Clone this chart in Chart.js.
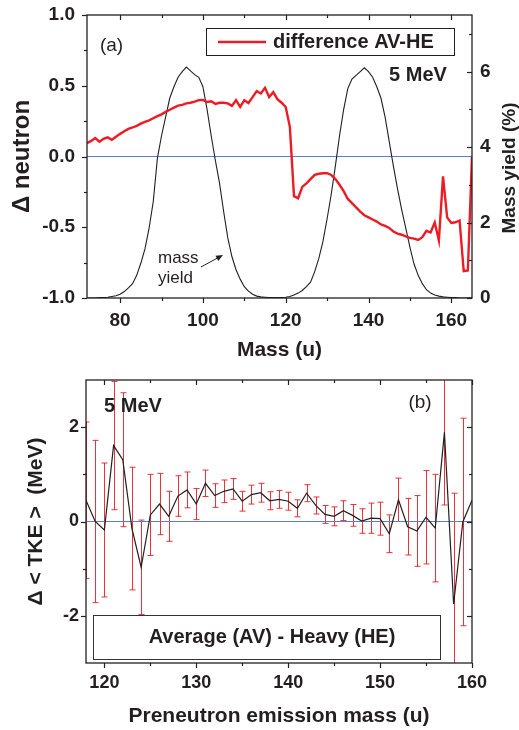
<!DOCTYPE html>
<html><head><meta charset="utf-8">
<script src="https://cdn.jsdelivr.net/npm/chart.js@4.4.1/dist/chart.umd.min.js"></script>
<style>
html,body{margin:0;padding:0;background:#fff;}
#wrap{position:relative;width:519px;height:730px;overflow:hidden;background:#fff;}
.box{position:absolute;left:0;width:519px;}
</style></head><body>
<div id="wrap">
<div class="box" style="top:0;height:372px"><canvas id="c1"></canvas></div>
<div class="box" style="top:369px;height:361px"><canvas id="c2"></canvas></div>
</div>
<script>
// ---------- Panel (a) data ----------
const massA = [72,73,74,75,76,77,78,79,80,81,82,83,84,85,86,87,88,89,90,91,92,93,94,95,96,97,98,99,100,101,102,103,104,105,106,107,108,109,110,111,112,113,114,115,116,117,118,119,120,121,122,123,124,125,126,127,128,129,130,131,132,133,134,135,136,137,138,139,140,141,142,143,144,145,146,147,148,149,150,151,152,153,154,155,156,157,158,159,160,161,162,163,164,165];
const diffAVHE = [0.095,0.11,0.13,0.105,0.125,0.135,0.118,0.14,0.16,0.178,0.195,0.205,0.217,0.232,0.245,0.255,0.27,0.285,0.298,0.315,0.33,0.345,0.36,0.365,0.375,0.38,0.388,0.398,0.4,0.385,0.39,0.372,0.38,0.38,0.375,0.358,0.398,0.35,0.398,0.378,0.42,0.462,0.445,0.485,0.42,0.455,0.405,0.38,0.35,0.21,-0.28,-0.295,-0.215,-0.19,-0.16,-0.13,-0.122,-0.118,-0.118,-0.13,-0.16,-0.2,-0.245,-0.3,-0.33,-0.36,-0.39,-0.415,-0.43,-0.445,-0.46,-0.48,-0.49,-0.505,-0.53,-0.545,-0.553,-0.565,-0.575,-0.58,-0.59,-0.57,-0.525,-0.537,-0.466,-0.594,-0.14,-0.43,-0.47,-0.465,-0.452,-0.81,-0.806,0.0];
const massYield = [0,0,0,0.01,0.01,0.02,0.04,0.06,0.1,0.17,0.27,0.38,0.6,0.92,1.3,1.85,2.55,3.7,4.3,4.8,5.3,5.6,5.85,6.0,6.12,6.02,5.92,5.85,5.6,5.0,4.3,3.65,3.05,2.3,1.6,1.1,0.75,0.5,0.3,0.18,0.1,0.05,0.03,0.02,0.01,0.01,0.01,0.01,0.02,0.04,0.08,0.13,0.2,0.3,0.42,0.7,1.05,1.5,2.1,2.75,3.5,4.3,5.0,5.55,5.8,5.9,6.0,6.1,6.0,5.85,5.6,5.3,4.8,4.15,3.5,2.9,2.35,1.85,1.35,0.9,0.6,0.38,0.22,0.13,0.08,0.05,0.03,0.02,0.01,0.01,0,0,0,0];
const xTicksA = [80,100,120,140,160];
const xMinorA = [90,110,130,150];
const yTicksA = [-1,-0.5,0,0.5,1];
const yMinorA = [-0.75,-0.25,0.25,0.75];
const y1TicksA = [0,2,4,6];
const y1MinorA = [1,3,5,7];
const zeroXA = [72,165];

// ---------- Panel (b) data ----------
const massB = [118,119,120,121,122,123,124,125,126,127,128,129,130,131,132,133,134,135,136,137,138,139,140,141,142,143,144,145,146,147,148,149,150,151,152,153,154,155,156,157,158,159,160];
const dTKE = [0.45,0.0,-0.18,1.61,1.31,-0.15,-0.97,0.14,0.37,0.11,0.54,0.67,0.37,0.81,0.55,0.64,0.69,0.43,0.57,0.61,0.44,0.47,0.43,0.28,0.6,0.34,0.15,0.11,0.23,0.13,0.01,0.07,0.06,-0.26,0.46,-0.11,-0.2,0.09,-0.14,1.89,-1.75,-0.01,0.45];
const dTKEerr = [1.66,1.72,1.42,1.36,1.42,1.3,1.0,0.86,0.65,0.53,0.43,0.38,0.33,0.28,0.25,0.24,0.22,0.21,0.2,0.2,0.19,0.19,0.19,0.18,0.18,0.18,0.19,0.2,0.21,0.23,0.26,0.32,0.35,0.4,0.46,0.6,0.75,0.99,1.14,1.54,2.35,2.2,4.0];
const xTicksB = [120,130,140,150,160];
const xMinorB = [125,135,145,155];
const yTicksB = [-2,0,2];
const yMinorB = [-1,1];
const zeroXB = [118,160];

// ---------- styling ----------
const FONT = "'Liberation Sans', Arial, Helvetica, sans-serif";
Chart.defaults.font.family = FONT;
Chart.defaults.color = '#231f20';
const INK = '#231f20';
const RED = '#ec1c24';
const BLUE = '#5a7ed8';

const pts = (xs, ys) => xs.map((x, i) => ({x: x, y: ys[i]}));
const noPad = s => { s.paddingTop = 0; s.paddingBottom = 0; s.paddingLeft = 0; s.paddingRight = 0; };

function frame(ctx, a) {
  ctx.save();
  ctx.strokeStyle = INK; ctx.lineWidth = 1.3;
  ctx.strokeRect(a.left, a.top, a.right - a.left, a.bottom - a.top);
  ctx.restore();
}
// len > 0 : outward, len < 0 : inward
function tickMarks(chart, specs) {
  const ctx = chart.ctx, a = chart.chartArea;
  ctx.save();
  ctx.strokeStyle = INK; ctx.lineWidth = 1.2;
  specs.forEach(s => {
    const sc = chart.scales[s.scale];
    s.vals.forEach(v => {
      const p = Math.round(sc.getPixelForValue(v)) + 0.5;
      ctx.beginPath();
      if (s.side === 'bottom') { ctx.moveTo(p, a.bottom); ctx.lineTo(p, a.bottom + s.len); }
      if (s.side === 'top') { ctx.moveTo(p, a.top); ctx.lineTo(p, a.top - s.len); }
      if (s.side === 'left') { ctx.moveTo(a.left, p); ctx.lineTo(a.left - s.len, p); }
      if (s.side === 'right') { ctx.moveTo(a.right, p); ctx.lineTo(a.right + s.len, p); }
      ctx.stroke();
    });
  });
  ctx.restore();
}
function text(ctx, str, x, y, font, align, base, rot) {
  ctx.save();
  ctx.font = font; ctx.fillStyle = INK;
  ctx.textAlign = align || 'center'; ctx.textBaseline = base || 'middle';
  ctx.translate(x, y);
  if (rot) ctx.rotate(rot);
  ctx.fillText(str, 0, 0);
  ctx.restore();
}

const panelA = {
  id: 'panelA',
  afterDraw(chart) {
    const ctx = chart.ctx, a = chart.chartArea;
    frame(ctx, a);
    tickMarks(chart, [
      {scale: 'x', side: 'bottom', vals: xTicksA, len: 5},
      {scale: 'x', side: 'bottom', vals: xMinorA, len: 3},
      {scale: 'x', side: 'top', vals: xTicksA, len: -5},
      {scale: 'x', side: 'top', vals: xMinorA, len: -3},
      {scale: 'y', side: 'left', vals: yTicksA, len: 5},
      {scale: 'y', side: 'left', vals: yMinorA, len: 3},
      {scale: 'y1', side: 'right', vals: y1TicksA, len: -5},
      {scale: 'y1', side: 'right', vals: y1MinorA, len: -3}
    ]);
    // legend box
    ctx.save();
    ctx.fillStyle = '#fff'; ctx.fillRect(206, 28, 248, 27);
    ctx.strokeStyle = INK; ctx.lineWidth = 1; ctx.strokeRect(206.5, 28.5, 248, 27);
    ctx.strokeStyle = RED; ctx.lineWidth = 2.4;
    ctx.beginPath(); ctx.moveTo(218, 42); ctx.lineTo(266, 42); ctx.stroke();
    ctx.restore();
    text(ctx, 'difference AV-HE', 273, 42, 'bold 20px ' + FONT, 'left');
    text(ctx, '(a)', 111.5, 46, '19px ' + FONT);
    text(ctx, '5 MeV', 418, 75, 'bold 20px ' + FONT);
    text(ctx, 'mass', 158, 263, '17px ' + FONT, 'left', 'alphabetic');
    text(ctx, 'yield', 158, 283, '17px ' + FONT, 'left', 'alphabetic');
    // arrow
    ctx.save();
    ctx.strokeStyle = INK; ctx.fillStyle = INK; ctx.lineWidth = 1;
    const x0 = 201, y0 = 267, x1 = 223, y1 = 255;
    const ang = Math.atan2(y1 - y0, x1 - x0);
    ctx.beginPath(); ctx.moveTo(x0, y0); ctx.lineTo(x1 - 5 * Math.cos(ang), y1 - 5 * Math.sin(ang)); ctx.stroke();
    ctx.beginPath();
    ctx.moveTo(x1, y1);
    ctx.lineTo(x1 - 7 * Math.cos(ang) + 3 * Math.sin(ang), y1 - 7 * Math.sin(ang) - 3 * Math.cos(ang));
    ctx.lineTo(x1 - 7 * Math.cos(ang) - 3 * Math.sin(ang), y1 - 7 * Math.sin(ang) + 3 * Math.cos(ang));
    ctx.closePath(); ctx.fill();
    ctx.restore();
    // right axis title (reads bottom to top)
    text(ctx, 'Mass yield (%)', 510, 168, 'bold 19px ' + FONT, 'center', 'middle', -Math.PI / 2);
  }
};

const panelB = {
  id: 'panelB',
  beforeDatasetsDraw(chart) {
    const ctx = chart.ctx, a = chart.chartArea;
    const xs = chart.scales.x, ys = chart.scales.y;
    ctx.save();
    ctx.beginPath(); ctx.rect(a.left, a.top, a.right - a.left, a.bottom - a.top); ctx.clip();
    ctx.strokeStyle = 'rgba(236,28,36,0.9)'; ctx.lineWidth = 1;
    massB.forEach((m, i) => {
      const x = Math.round(xs.getPixelForValue(m)) + 0.5;
      const yt = ys.getPixelForValue(dTKE[i] + dTKEerr[i]);
      const yb = ys.getPixelForValue(dTKE[i] - dTKEerr[i]);
      ctx.beginPath(); ctx.moveTo(x, yt); ctx.lineTo(x, yb); ctx.stroke();
      ctx.beginPath();
      ctx.moveTo(x - 3, yt); ctx.lineTo(x + 3, yt);
      ctx.moveTo(x - 3, yb); ctx.lineTo(x + 3, yb);
      ctx.stroke();
    });
    ctx.restore();
  },
  afterDatasetsDraw(chart) {
    const ctx = chart.ctx;
    ctx.save();
    ctx.fillStyle = '#fff'; ctx.fillRect(93, 246, 347, 44);
    ctx.strokeStyle = '#333'; ctx.lineWidth = 1; ctx.strokeRect(93.5, 246.5, 347, 44);
    ctx.restore();
    text(ctx, 'Average (AV) - Heavy (HE)', 272, 268, 'bold 20px ' + FONT);
  },
  afterDraw(chart) {
    const ctx = chart.ctx, a = chart.chartArea;
    frame(ctx, a);
    tickMarks(chart, [
      {scale: 'x', side: 'bottom', vals: xTicksB, len: 5},
      {scale: 'x', side: 'bottom', vals: xMinorB, len: 3},
      {scale: 'x', side: 'top', vals: xTicksB, len: -5},
      {scale: 'x', side: 'top', vals: xMinorB, len: -3},
      {scale: 'y', side: 'left', vals: yTicksB, len: 5},
      {scale: 'y', side: 'left', vals: yMinorB, len: 3},
      {scale: 'y', side: 'right', vals: yTicksB, len: -5},
      {scale: 'y', side: 'right', vals: yMinorB, len: -3}
    ]);
    text(ctx, '(b)', 420, 34, '19px ' + FONT);
    text(ctx, '5 MeV', 133, 37.5, 'bold 20px ' + FONT);
  }
};

const common = {
  responsive: true, maintainAspectRatio: false, animation: false, events: [],
  plugins: {legend: {display: false}, tooltip: {enabled: false}}
};

new Chart(document.getElementById('c1'), {
  type: 'scatter',
  data: {datasets: [
    {label: 'difference AV-HE', data: pts(massA, diffAVHE), yAxisID: 'y', showLine: true,
     borderColor: RED, borderWidth: 2.4, pointRadius: 0, tension: 0},
    {label: 'mass yield', data: pts(massA, massYield), yAxisID: 'y1', showLine: true,
     borderColor: INK, borderWidth: 1.1, pointRadius: 0, tension: 0},
    {label: 'zero', data: pts(zeroXA, [0, 0]), yAxisID: 'y', showLine: true,
     borderColor: BLUE, borderWidth: 1, pointRadius: 0}
  ]},
  options: Object.assign({}, common, {
    layout: {padding: {top: 15, left: 0, right: 0, bottom: 0}},
    scales: {
      x: {type: 'linear', position: 'bottom', min: 72, max: 165,
          grid: {display: false, drawTicks: false}, border: {display: false},
          afterBuildTicks: s => { s.ticks = xTicksA.map(v => ({value: v})); },
          afterFit: s => { s.height = 74; noPad(s); },
          ticks: {font: {size: 19, weight: 'bold'}, color: INK, padding: 11, maxRotation: 0, autoSkip: false},
          title: {display: true, text: 'Mass (u)', font: {size: 21, weight: 'bold'}, color: INK, padding: {top: 0, bottom: 9}}},
      y: {type: 'linear', position: 'left', min: -1, max: 1,
          grid: {display: false, drawTicks: false}, border: {display: false},
          afterBuildTicks: s => { s.ticks = yTicksA.map(v => ({value: v})); },
          afterFit: s => { s.width = 87; noPad(s); },
          ticks: {font: {size: 19, weight: 'bold'}, color: INK, padding: 12, callback: v => v.toFixed(1)},
          title: {display: true, text: 'Δ neutron', font: {size: 24, weight: 'bold'}, color: INK, padding: {top: 8, bottom: 0}}},
      y1: {type: 'linear', position: 'right', min: 0, max: 7.5,
          grid: {display: false, drawTicks: false}, border: {display: false},
          afterBuildTicks: s => { s.ticks = y1TicksA.map(v => ({value: v})); },
          afterFit: s => { s.width = 47; noPad(s); },
          ticks: {font: {size: 19, weight: 'bold'}, color: INK, padding: 8, callback: v => String(v)}}
    }
  }),
  plugins: [panelA]
});

new Chart(document.getElementById('c2'), {
  type: 'scatter',
  data: {datasets: [
    {label: 'Δ<TKE>', data: pts(massB, dTKE), showLine: true,
     borderColor: INK, borderWidth: 1.2, pointRadius: 0, tension: 0},
    {label: 'zero', data: pts(zeroXB, [0, 0]), showLine: true,
     borderColor: BLUE, borderWidth: 1, pointRadius: 0}
  ]},
  options: Object.assign({}, common, {
    layout: {padding: {top: 11, left: 0, right: 47, bottom: 0}},
    scales: {
      x: {type: 'linear', position: 'bottom', min: 118, max: 160,
          grid: {display: false, drawTicks: false}, border: {display: false},
          afterBuildTicks: s => { s.ticks = xTicksB.map(v => ({value: v})); },
          afterFit: s => { s.height = 67; noPad(s); },
          ticks: {font: {size: 18, weight: 'bold'}, color: INK, padding: 9, maxRotation: 0, autoSkip: false},
          title: {display: true, text: 'Preneutron emission mass (u)', font: {size: 21, weight: 'bold'}, color: INK, padding: {top: 0, bottom: 1}}},
      y: {type: 'linear', position: 'left', min: -3, max: 3,
          grid: {display: false, drawTicks: false}, border: {display: false},
          afterBuildTicks: s => { s.ticks = yTicksB.map(v => ({value: v})); },
          afterFit: s => { s.width = 86; noPad(s); },
          ticks: {font: {size: 18, weight: 'bold'}, color: INK, padding: 7, callback: v => String(v)},
          title: {display: true, text: 'Δ < TKE >  (MeV)', font: {size: 21, weight: 'bold'}, color: INK, padding: {top: 24, bottom: 0}}}
    }
  }),
  plugins: [panelB]
});
</script>
</body></html>
